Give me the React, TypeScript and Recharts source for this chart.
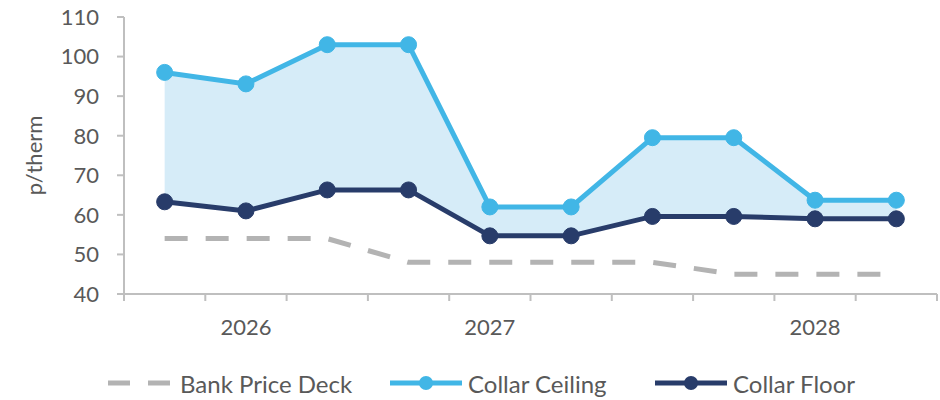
import React from "react";
import { ComposedChart, Line, Area, XAxis, YAxis, Legend } from "recharts";

// quarterly points, 2026 Q1 .. 2028 Q2
const periods = ["Q1 26", "Q2 26", "Q3 26", "Q4 26", "Q1 27", "Q2 27", "Q3 27", "Q4 27", "Q1 28", "Q2 28"];
const yearLabels = ["", "2026", "", "", "2027", "", "", "", "2028", ""];
const bankPriceDeck = [54, 54, 54, 48, 48, 48, 48, 45, 45, 45];
const collarCeiling = [96, 93.1, 103, 103, 62, 62, 79.5, 79.5, 63.7, 63.7];
const collarFloor = [63.3, 61, 66.3, 66.3, 54.7, 54.7, 59.6, 59.6, 59, 59];
const yTicks = [40, 50, 60, 70, 80, 90, 100, 110];

const data = periods.map((p, i) => ({
  period: p,
  pos: i + 0.5,
  bank: bankPriceDeck[i],
  ceiling: collarCeiling[i],
  floor: collarFloor[i],
}));

// band edges plus band centres (centres carry the year labels)
const xTicks = [
  ...periods.map((_, i) => i),
  periods.length,
  ...periods.map((_, i) => i + 0.5),
].sort((a, b) => a - b);

const FONT = "Lato, 'Open Sans', sans-serif";
const TEXT = "#595959";
const AXIS = "#BFBFBF";
const CEILING = "#41B6E6";
const FLOOR = "#283C6A";
const BANK = "#B3B3B3";
const BAND = "#D6ECF8";

const XTick = (props: any) => {
  const { x, y, payload } = props;
  const v = payload.value as number;
  if (Number.isInteger(v)) {
    return <line x1={x} x2={x} y1={y - 7} y2={y} stroke={AXIS} strokeWidth={2} />;
  }
  const label = yearLabels[Math.floor(v)];
  if (!label) return null;
  return (
    <text x={x} y={y + 18} dy="0.71em" textAnchor="middle" fill={TEXT} fontSize={22} fontFamily={FONT}>
      {label}
    </text>
  );
};

const legendItems = [
  { name: "Bank Price Deck", color: BANK, dashed: true, left: 100 },
  { name: "Collar Ceiling", color: CEILING, dashed: false, left: 390 },
  { name: "Collar Floor", color: FLOOR, dashed: false, left: 655 },
];

const LegendContent = () => (
  <div style={{ position: "relative", height: 36, fontFamily: FONT, fontSize: 24, color: TEXT }}>
    {legendItems.map((it) => (
      <div
        key={it.name}
        style={{ position: "absolute", left: it.left, top: 4, display: "flex", alignItems: "center", height: 30 }}
      >
        {it.dashed ? (
          <svg width={72} height={20}>
            <line x1={8} x2={70} y1={10} y2={10} stroke={it.color} strokeWidth={5} strokeDasharray="22 18" />
          </svg>
        ) : (
          <svg width={72} height={20}>
            <line x1={0} x2={72} y1={10} y2={10} stroke={it.color} strokeWidth={5} />
            <circle cx={36} cy={10} r={7} fill={it.color} />
          </svg>
        )}
        <span style={{ marginLeft: it.dashed ? 8 : 6, whiteSpace: "nowrap" }}>{it.name}</span>
      </div>
    ))}
  </div>
);

export default function App() {
  return (
    <div style={{ position: "absolute", left: 0, top: 0, width: 940, height: 400, background: "#fff" }}>
      <ComposedChart width={940} height={400} data={data} margin={{ top: 17, right: 3, left: 0, bottom: 0 }}>
        <XAxis
          dataKey="pos"
          type="number"
          domain={[0, periods.length]}
          ticks={xTicks}
          interval={0}
          tick={<XTick />}
          tickLine={false}
          tickSize={7}
          tickMargin={0}
          axisLine={{ stroke: AXIS, strokeWidth: 2 }}
          height={70}
        />
        <YAxis
          domain={[40, 110]}
          ticks={yTicks}
          interval={0}
          width={124}
          tickSize={7}
          tickMargin={18}
          tick={{ fill: TEXT, fontSize: 22, fontFamily: FONT }}
          tickLine={{ stroke: AXIS, strokeWidth: 2 }}
          axisLine={{ stroke: AXIS, strokeWidth: 2 }}
          label={{
            value: "p/therm",
            angle: -90,
            position: "insideLeft",
            offset: 34,
            style: { fill: TEXT, fontSize: 22, fontFamily: FONT, textAnchor: "middle" },
          }}
        />
        <Legend verticalAlign="bottom" height={36} content={<LegendContent />} />
        <Area
          dataKey={(d: any) => [d.floor, d.ceiling]}
          type="linear"
          fill={BAND}
          fillOpacity={1}
          stroke="none"
          isAnimationActive={false}
          legendType="none"
        />
        <Line
          dataKey="bank"
          type="linear"
          stroke={BANK}
          strokeWidth={5}
          strokeDasharray="23 18"
          dot={false}
          activeDot={false}
          isAnimationActive={false}
        />
        <Line
          dataKey="ceiling"
          type="linear"
          stroke={CEILING}
          strokeWidth={5}
          dot={{ r: 8, fill: CEILING, stroke: CEILING, strokeWidth: 1 }}
          isAnimationActive={false}
        />
        <Line
          dataKey="floor"
          type="linear"
          stroke={FLOOR}
          strokeWidth={5}
          dot={{ r: 8, fill: FLOOR, stroke: FLOOR, strokeWidth: 1 }}
          isAnimationActive={false}
        />
      </ComposedChart>
    </div>
  );
}
